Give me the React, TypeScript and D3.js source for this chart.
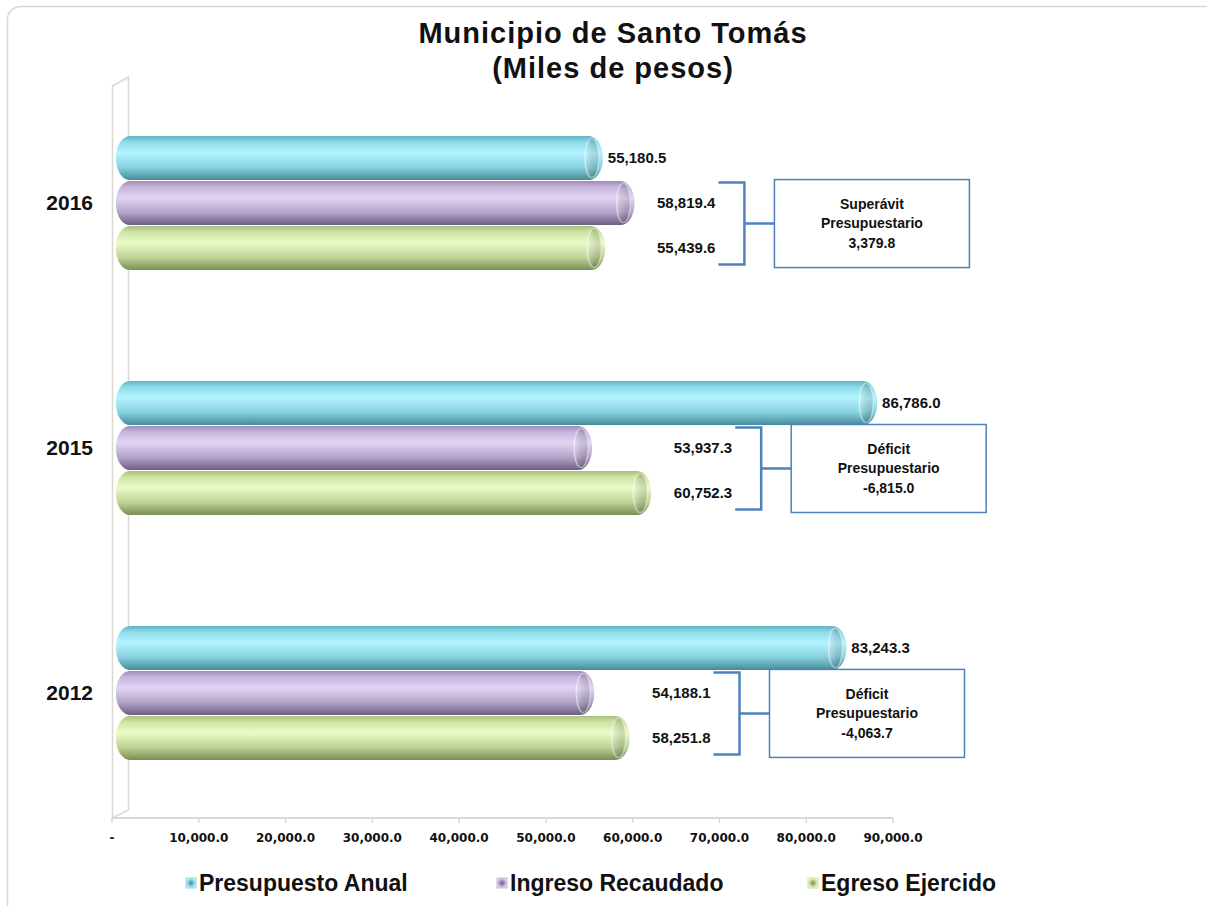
import React, { useEffect, useRef } from "react";
import * as d3 from "d3";

// data (miles de pesos)
const years = ["2016", "2015", "2012"];
const seriesNames = ["Presupuesto Anual", "Ingreso Recaudado", "Egreso Ejercido"];
const presupuesto = [55180.5, 86786.0, 83243.3];
const ingreso = [58819.4, 53937.3, 54188.1];
const egreso = [55439.6, 60752.3, 58251.8];
const xTicks = [0, 10000, 20000, 30000, 40000, 50000, 60000, 70000, 80000, 90000];

// gradient stops for the cylinder look, one palette per series
const palettes = [
  ["#5fb3c4", "#8fdcea", "#b4f4ff", "#86d0de", "#468a98"],
  ["#9d8db3", "#c6b5de", "#e2d4f5", "#b2a2c8", "#6c5e80"],
  ["#a9bf80", "#cfe4a2", "#ebfbc8", "#bdd194", "#7a8e55"],
];

const W = 1207;
const H = 906;
const DEPTH = 12;

const App = () => {
  const svgRef = useRef<SVGSVGElement>(null);

  useEffect(() => {
    const svg = d3.select(svgRef.current);
    svg.selectAll("*").remove();

    // plain hyphen for negatives, like the original
    const fmt = (v: number) => d3.format(",.1f")(v).replace("\u2212", "-");
    const values = [presupuesto, ingreso, egreso];

    const x = d3.scaleLinear().domain([0, 90000]).range([112, 893]);
    const y = d3
      .scaleBand()
      .domain(years)
      .range([80, 816])
      .paddingInner(0.449)
      .paddingOuter(0.227);
    const ySeries = d3
      .scaleBand()
      .domain(seriesNames)
      .range([0, y.bandwidth()]);

    // gradients
    const defs = svg.append("defs");
    palettes.forEach((p, i) => {
      const g = defs
        .append("linearGradient")
        .attr("id", `grad${i}`)
        .attr("x1", 0)
        .attr("y1", 0)
        .attr("x2", 0)
        .attr("y2", 1);
      [0, 0.14, 0.38, 0.72, 1].forEach((o, k) =>
        g.append("stop").attr("offset", o).attr("stop-color", p[k])
      );
      const gm = defs.append("radialGradient").attr("id", `mark${i}`);
      gm.append("stop").attr("offset", 0).attr("stop-color", p[4]);
      gm.append("stop").attr("offset", 1).attr("stop-color", p[2]);
    });
    const capGrad = defs
      .append("linearGradient")
      .attr("id", "capShade")
      .attr("x1", 0)
      .attr("y1", 0)
      .attr("x2", 1)
      .attr("y2", 0);
    capGrad.append("stop").attr("offset", 0).attr("stop-color", "#fff").attr("stop-opacity", 0.25);
    capGrad.append("stop").attr("offset", 1).attr("stop-color", "#000").attr("stop-opacity", 0.12);

    // outer frame
    svg
      .append("rect")
      .attr("x", 7.5)
      .attr("y", 6.5)
      .attr("width", W + 20)
      .attr("height", H + 20)
      .attr("rx", 13)
      .attr("fill", "#fff")
      .attr("stroke", "#d8d8d2")
      .attr("stroke-width", 1.5);

    // title
    const title = svg
      .append("text")
      .attr("text-anchor", "middle")
      .attr("font-family", "'Liberation Sans', Arial, sans-serif")
      .attr("font-weight", "bold")
      .attr("font-size", 29)
      .attr("letter-spacing", 1)
      .attr("fill", "#111");
    title.append("tspan").attr("x", 613).attr("y", 43).text("Municipio de Santo Tomás");
    title.append("tspan").attr("x", 613).attr("y", 78).text("(Miles de pesos)");

    // 3D side wall and floor
    svg
      .append("path")
      .attr("d", "M112.5,818 L112.5,86 L128.5,77 L128.5,810 Z")
      .attr("fill", "#fff")
      .attr("stroke", "#d9d9d2")
      .attr("stroke-width", 1.5);

    svg
      .append("line")
      .attr("x1", 112)
      .attr("x2", 893)
      .attr("y1", 818)
      .attr("y2", 818)
      .attr("stroke", "#d9d9d2")
      .attr("stroke-width", 2);

    svg
      .selectAll(".tick")
      .data(xTicks)
      .enter()
      .append("line")
      .attr("class", "tick")
      .attr("x1", (d) => x(d))
      .attr("x2", (d) => x(d))
      .attr("y1", 818)
      .attr("y2", 823)
      .attr("stroke", "#d9d9d2")
      .attr("stroke-width", 1.5);

    svg
      .selectAll(".tickLabel")
      .data(xTicks)
      .enter()
      .append("text")
      .attr("class", "tickLabel")
      .attr("x", (d) => x(d))
      .attr("y", 842)
      .attr("text-anchor", "middle")
      .attr("font-family", "'DejaVu Sans', Verdana, sans-serif")
      .attr("font-weight", "bold")
      .attr("font-size", 12)
      .attr("fill", "#111")
      .text((d) => (d === 0 ? "-" : fmt(d)));

    // year labels
    svg
      .selectAll(".year")
      .data(years)
      .enter()
      .append("text")
      .attr("class", "year")
      .attr("x", 93)
      .attr("y", (d) => y(d)! + y.bandwidth() / 2)
      .attr("dy", "0.35em")
      .attr("text-anchor", "end")
      .attr("font-family", "'Liberation Sans', Arial, sans-serif")
      .attr("font-weight", "bold")
      .attr("font-size", 21)
      .attr("fill", "#111")
      .text((d) => d);

    // bars
    years.forEach((yr, gi) => {
      const g = svg.append("g");
      seriesNames.forEach((s, si) => {
        const v = values[si][gi];
        const top = y(yr)! + ySeries(s)!;
        const h = ySeries.bandwidth();
        const x0 = x(0) + 4;
        const x1 = x(v) + DEPTH;
        g.append("rect")
          .attr("x", x0)
          .attr("y", top + 0.5)
          .attr("width", x1 - x0)
          .attr("height", h - 1)
          .attr("rx", 14)
          .attr("ry", 21)
          .attr("fill", `url(#grad${si})`);
        // end cap of the cylinder
        g.append("ellipse")
          .attr("cx", x1 - 11)
          .attr("cy", top + h / 2)
          .attr("rx", 7)
          .attr("ry", h / 2 - 3)
          .attr("fill", `url(#grad${si})`)
          .attr("stroke", "rgba(255,255,255,0.45)")
          .attr("stroke-width", 1.5);
        g.append("ellipse")
          .attr("cx", x1 - 11)
          .attr("cy", top + h / 2)
          .attr("rx", 7)
          .attr("ry", h / 2 - 3)
          .attr("fill", "url(#capShade)");
      });

      // label of the budget bar
      const sTop = y(yr)! + ySeries(seriesNames[0])!;
      svg
        .append("text")
        .attr("x", x(presupuesto[gi]) + DEPTH + 5)
        .attr("y", sTop + ySeries.bandwidth() / 2)
        .attr("dy", "0.35em")
        .attr("font-family", "'Liberation Sans', Arial, sans-serif")
        .attr("font-weight", "bold")
        .attr("font-size", 15)
        .attr("fill", "#111")
        .text(fmt(presupuesto[gi]));

      // ingreso / egreso labels with bracket and balance box
      const labX = x(Math.max(ingreso[gi], egreso[gi])) + 93;
      const pTop = y(yr)! + ySeries(seriesNames[1])!;
      const eTop = y(yr)! + ySeries(seriesNames[2])!;
      [ingreso[gi], egreso[gi]].forEach((v, k) => {
        const t = k === 0 ? pTop : eTop;
        svg
          .append("text")
          .attr("x", labX)
          .attr("y", t + ySeries.bandwidth() / 2)
          .attr("dy", "0.35em")
          .attr("text-anchor", "end")
          .attr("font-family", "'Liberation Sans', Arial, sans-serif")
          .attr("font-weight", "bold")
          .attr("font-size", 15)
          .attr("fill", "#111")
          .text(fmt(v));
      });

      const bx0 = labX + 3;
      const bx1 = bx0 + 26;
      const by0 = pTop + 2;
      const by1 = eTop + ySeries.bandwidth() - 6;
      const ym = (by0 + by1) / 2;
      svg
        .append("path")
        .attr("d", `M${bx0},${by0} H${bx1} V${by1} H${bx0} M${bx1},${ym} H${bx1 + 30}`)
        .attr("fill", "none")
        .attr("stroke", "#4f81bd")
        .attr("stroke-width", 2.5);

      const boxX = bx1 + 30;
      svg
        .append("rect")
        .attr("x", boxX)
        .attr("y", ym - 44)
        .attr("width", 195)
        .attr("height", 88)
        .attr("fill", "#fff")
        .attr("stroke", "#4f81bd")
        .attr("stroke-width", 1.5);

      const balance = ingreso[gi] - egreso[gi];
      const lines = [
        balance >= 0 ? "Superávit" : "Déficit",
        "Presupuestario",
        fmt(balance),
      ];
      lines.forEach((ln, k) => {
        svg
          .append("text")
          .attr("x", boxX + 97.5)
          .attr("y", ym + (k - 1) * 19.5)
          .attr("dy", "0.35em")
          .attr("text-anchor", "middle")
          .attr("font-family", "'Liberation Sans', Arial, sans-serif")
          .attr("font-weight", "bold")
          .attr("font-size", 14)
          .attr("fill", "#111")
          .text(ln);
      });
    });

    // legend
    seriesNames.forEach((s, i) => {
      const lx = 186 + i * 311;
      svg
        .append("rect")
        .attr("x", lx)
        .attr("y", 878)
        .attr("width", 10)
        .attr("height", 10)
        .attr("fill", `url(#mark${i})`)
        .attr("stroke", palettes[i][1])
        .attr("stroke-width", 1);
      svg
        .append("text")
        .attr("x", lx + 13)
        .attr("y", 891)
        .attr("font-family", "'Liberation Sans', Arial, sans-serif")
        .attr("font-weight", "bold")
        .attr("font-size", 23)
        .attr("fill", "#111")
        .text(s);
    });
  }, []);

  return (
    <svg
      ref={svgRef}
      width={W}
      height={H}
      style={{ position: "absolute", left: 0, top: 0, background: "#fff" }}
    ></svg>
  );
};

export default App;
